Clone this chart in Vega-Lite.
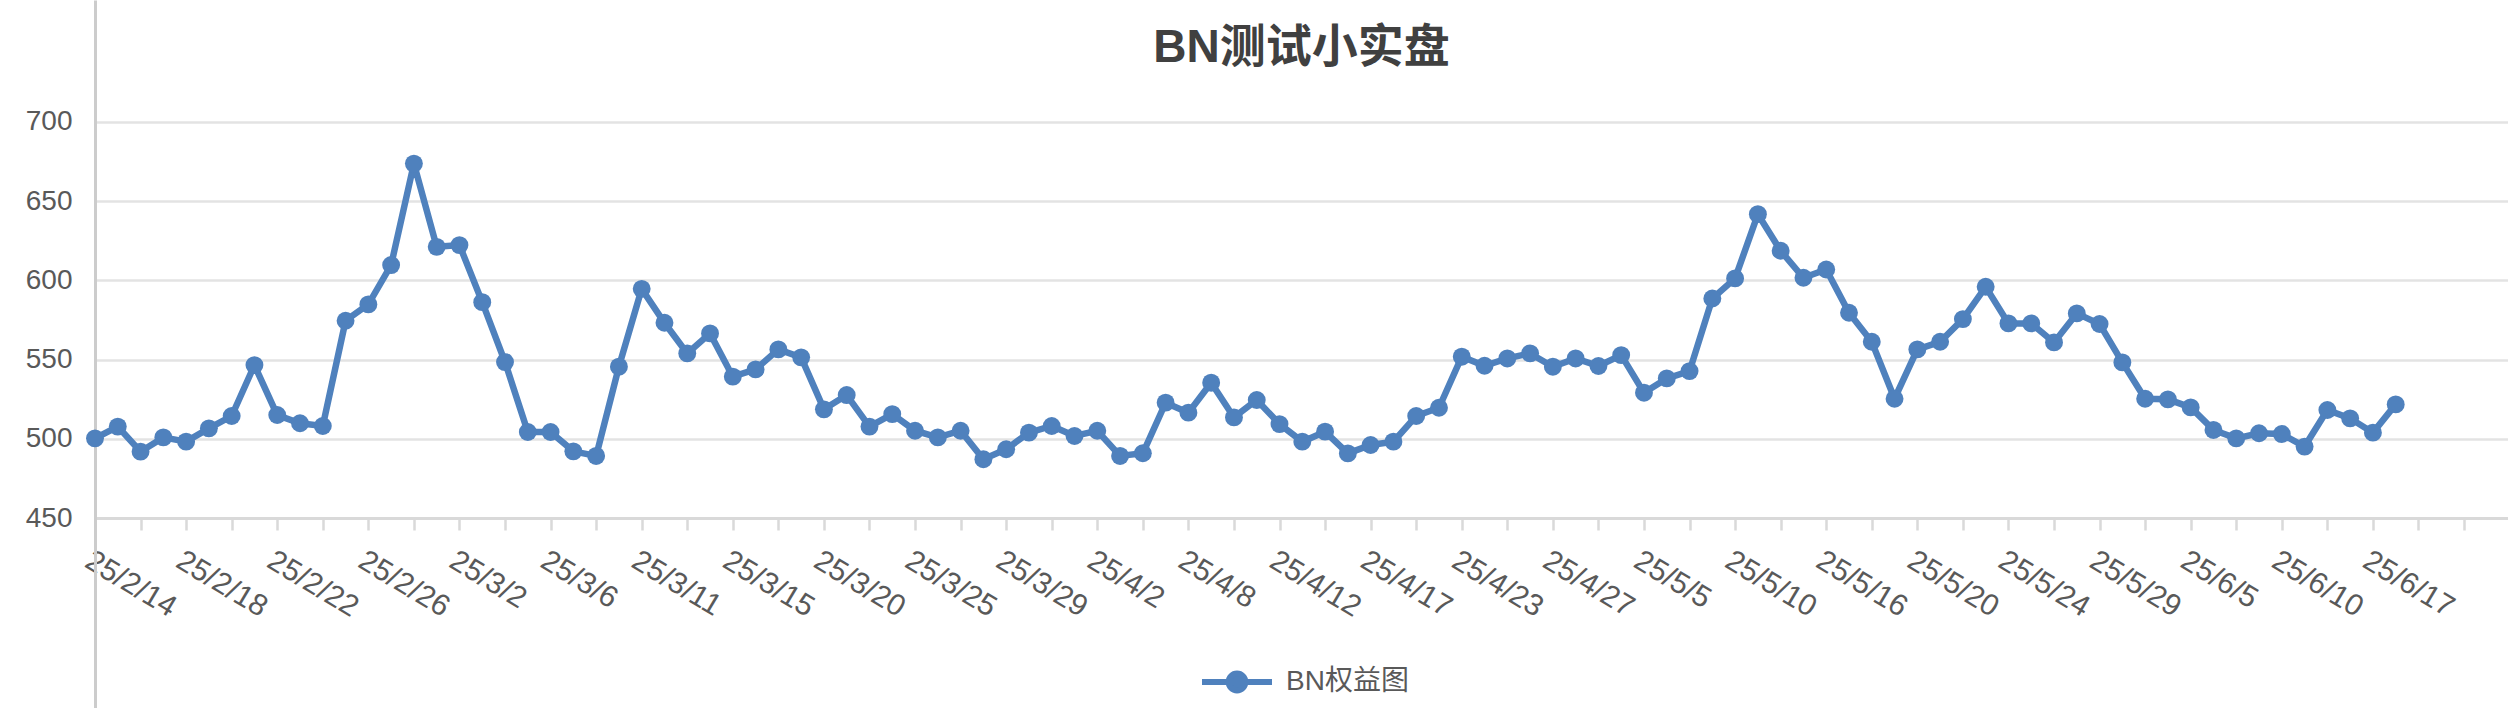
{
  "$schema": "https://vega.github.io/schema/vega-lite/v6.json",
  "width": 2413,
  "height": 708,
  "autosize": {"type": "none"},
  "padding": {"left": 95, "top": 0, "right": 0, "bottom": 0},
  "background": "white",
  "config": {"view": {"stroke": null}},
  "title": {
    "text": "BN测试小实盘",
    "fontSize": 46,
    "font": "Liberation Sans, Noto Sans CJK SC",
    "fontWeight": "bold",
    "color": "#404040",
    "anchor": "middle",
    "frame": "group",
    "offset": -72
  },
  "data": {
    "values": [
      {"date": "25/2/14", "value": 500.4},
      {"date": "25/2/15", "value": 507.8},
      {"date": "25/2/16", "value": 492.0},
      {"date": "25/2/17", "value": 501.0},
      {"date": "25/2/18", "value": 498.3},
      {"date": "25/2/19", "value": 506.7},
      {"date": "25/2/20", "value": 514.5},
      {"date": "25/2/21", "value": 546.6},
      {"date": "25/2/22", "value": 515.1},
      {"date": "25/2/23", "value": 509.9},
      {"date": "25/2/24", "value": 508.2},
      {"date": "25/2/25", "value": 574.6},
      {"date": "25/2/26", "value": 584.9},
      {"date": "25/2/27", "value": 609.7},
      {"date": "25/2/28", "value": 673.7},
      {"date": "25/3/1", "value": 621.2},
      {"date": "25/3/2", "value": 622.3},
      {"date": "25/3/3", "value": 586.3},
      {"date": "25/3/4", "value": 548.5},
      {"date": "25/3/5", "value": 504.4},
      {"date": "25/3/6", "value": 504.4},
      {"date": "25/3/7", "value": 492.2},
      {"date": "25/3/8", "value": 489.3},
      {"date": "25/3/10", "value": 545.6},
      {"date": "25/3/11", "value": 594.7},
      {"date": "25/3/12", "value": 573.3},
      {"date": "25/3/13", "value": 554.0},
      {"date": "25/3/14", "value": 566.6},
      {"date": "25/3/15", "value": 539.3},
      {"date": "25/3/16", "value": 543.9},
      {"date": "25/3/17", "value": 556.5},
      {"date": "25/3/18", "value": 551.5},
      {"date": "25/3/20", "value": 518.7},
      {"date": "25/3/21", "value": 527.7},
      {"date": "25/3/22", "value": 507.8},
      {"date": "25/3/23", "value": 515.7},
      {"date": "25/3/25", "value": 505.2},
      {"date": "25/3/26", "value": 501.0},
      {"date": "25/3/27", "value": 505.2},
      {"date": "25/3/28", "value": 487.2},
      {"date": "25/3/29", "value": 493.5},
      {"date": "25/3/30", "value": 504.0},
      {"date": "25/3/31", "value": 508.2},
      {"date": "25/4/1", "value": 501.9},
      {"date": "25/4/2", "value": 505.2},
      {"date": "25/4/3", "value": 489.3},
      {"date": "25/4/5", "value": 491.0},
      {"date": "25/4/7", "value": 522.9},
      {"date": "25/4/8", "value": 516.6},
      {"date": "25/4/9", "value": 535.5},
      {"date": "25/4/10", "value": 513.6},
      {"date": "25/4/11", "value": 524.6},
      {"date": "25/4/12", "value": 509.4},
      {"date": "25/4/13", "value": 498.3},
      {"date": "25/4/14", "value": 504.6},
      {"date": "25/4/16", "value": 490.9},
      {"date": "25/4/17", "value": 496.2},
      {"date": "25/4/18", "value": 498.3},
      {"date": "25/4/20", "value": 514.5},
      {"date": "25/4/21", "value": 519.7},
      {"date": "25/4/23", "value": 551.9},
      {"date": "25/4/24", "value": 546.2},
      {"date": "25/4/25", "value": 550.8},
      {"date": "25/4/26", "value": 554.0},
      {"date": "25/4/27", "value": 545.6},
      {"date": "25/4/29", "value": 550.8},
      {"date": "25/5/1", "value": 546.0},
      {"date": "25/5/3", "value": 552.9},
      {"date": "25/5/5", "value": 529.2},
      {"date": "25/5/6", "value": 538.2},
      {"date": "25/5/7", "value": 542.8},
      {"date": "25/5/9", "value": 588.6},
      {"date": "25/5/10", "value": 601.3},
      {"date": "25/5/12", "value": 641.8},
      {"date": "25/5/13", "value": 618.7},
      {"date": "25/5/15", "value": 601.7},
      {"date": "25/5/16", "value": 606.9},
      {"date": "25/5/17", "value": 579.6},
      {"date": "25/5/18", "value": 561.3},
      {"date": "25/5/19", "value": 525.4},
      {"date": "25/5/20", "value": 556.5},
      {"date": "25/5/21", "value": 561.3},
      {"date": "25/5/22", "value": 575.6},
      {"date": "25/5/23", "value": 596.0},
      {"date": "25/5/24", "value": 572.9},
      {"date": "25/5/26", "value": 572.9},
      {"date": "25/5/27", "value": 560.9},
      {"date": "25/5/28", "value": 579.2},
      {"date": "25/5/29", "value": 572.5},
      {"date": "25/6/1", "value": 548.3},
      {"date": "25/6/3", "value": 525.4},
      {"date": "25/6/4", "value": 525.0},
      {"date": "25/6/5", "value": 519.9},
      {"date": "25/6/6", "value": 505.7},
      {"date": "25/6/8", "value": 500.4},
      {"date": "25/6/9", "value": 503.6},
      {"date": "25/6/10", "value": 503.1},
      {"date": "25/6/12", "value": 495.2},
      {"date": "25/6/14", "value": 518.3},
      {"date": "25/6/16", "value": 513.0},
      {"date": "25/6/17", "value": 504.0},
      {"date": "25/6/18", "value": 521.8}
    ]
  },
  "encoding": {
    "x": {
      "field": "date",
      "type": "ordinal",
      "sort": null,
      "scale": {
        "type": "point",
        "padding": 0.965,
        "align": 0,
        "domain": ["25/2/14","25/2/15","25/2/16","25/2/17","25/2/18","25/2/19","25/2/20","25/2/21","25/2/22","25/2/23","25/2/24","25/2/25","25/2/26","25/2/27","25/2/28","25/3/1","25/3/2","25/3/3","25/3/4","25/3/5","25/3/6","25/3/7","25/3/8","25/3/10","25/3/11","25/3/12","25/3/13","25/3/14","25/3/15","25/3/16","25/3/17","25/3/18","25/3/20","25/3/21","25/3/22","25/3/23","25/3/25","25/3/26","25/3/27","25/3/28","25/3/29","25/3/30","25/3/31","25/4/1","25/4/2","25/4/3","25/4/5","25/4/7","25/4/8","25/4/9","25/4/10","25/4/11","25/4/12","25/4/13","25/4/14","25/4/16","25/4/17","25/4/18","25/4/20","25/4/21","25/4/23","25/4/24","25/4/25","25/4/26","25/4/27","25/4/29","25/5/1","25/5/3","25/5/5","25/5/6","25/5/7","25/5/9","25/5/10","25/5/12","25/5/13","25/5/15","25/5/16","25/5/17","25/5/18","25/5/19","25/5/20","25/5/21","25/5/22","25/5/23","25/5/24","25/5/26","25/5/27","25/5/28","25/5/29","25/6/1","25/6/3","25/6/4","25/6/5","25/6/6","25/6/8","25/6/9","25/6/10","25/6/12","25/6/14","25/6/16","25/6/17","25/6/18","25/6/19","25/6/20","25/6/21"]
      },
      "axis": {
        "title": null,
        "offset": -190,
        "grid": false,
        "values": ["25/2/14","25/2/16","25/2/18","25/2/20","25/2/22","25/2/24","25/2/26","25/2/28","25/3/2","25/3/4","25/3/6","25/3/8","25/3/11","25/3/13","25/3/15","25/3/17","25/3/20","25/3/22","25/3/25","25/3/27","25/3/29","25/3/31","25/4/2","25/4/5","25/4/8","25/4/10","25/4/12","25/4/14","25/4/17","25/4/20","25/4/23","25/4/25","25/4/27","25/5/1","25/5/5","25/5/7","25/5/10","25/5/13","25/5/16","25/5/18","25/5/20","25/5/22","25/5/24","25/5/27","25/5/29","25/6/3","25/6/5","25/6/8","25/6/10","25/6/14","25/6/17","25/6/19","25/6/21"],
        "labelExpr": "indexof(['25/2/14','25/2/18','25/2/22','25/2/26','25/3/2','25/3/6','25/3/11','25/3/15','25/3/20','25/3/25','25/3/29','25/4/2','25/4/8','25/4/12','25/4/17','25/4/23','25/4/27','25/5/5','25/5/10','25/5/16','25/5/20','25/5/24','25/5/29','25/6/5','25/6/10','25/6/17'], datum.value) >= 0 ? datum.value : ''",
        "labelAngle": 31,
        "labelAlign": "left",
        "labelBaseline": "top",
        "labelFont": "Liberation Sans",
        "labelFontSize": 30,
        "labelColor": "#595959",
        "labelPadding": 15,
        "labelOverlap": false,
        "labelBound": false,
        "tickSize": 12,
        "tickColor": "#d9d9d9",
        "tickWidth": 2.5,
        "domainColor": "#d9d9d9",
        "domainWidth": 3
      }
    },
    "y": {
      "field": "value",
      "type": "quantitative",
      "scale": {"domain": [330.3, 776.9], "nice": false, "zero": false},
      "axis": {
        "title": null,
        "values": [450, 500, 550, 600, 650, 700],
        "grid": true,
        "gridColor": "#e3e3e3",
        "gridWidth": 2.5,
        "ticks": false,
        "domainColor": "#cccccc",
        "domainWidth": 3,
        "labelFont": "Liberation Sans",
        "labelFontSize": 28,
        "labelColor": "#595959",
        "labelPadding": 23
      }
    },
    "color": {
      "datum": "BN权益图",
      "scale": {"range": ["#4F81BD"]},
      "legend": {
        "title": null,
        "orient": "none",
        "legendX": 1104,
        "legendY": 644,
        "padding": 0,
        "symbolType": "M -1 0 L 1 0 M 0.24 0 A 0.24 0.24 0 1 1 -0.24 0 A 0.24 0.24 0 1 1 0.24 0 Z",
        "symbolSize": 4900,
        "symbolStrokeWidth": 6,
        "symbolFillColor": "#4F81BD",
        "symbolStrokeColor": "#4F81BD",
        "symbolOpacity": 1,
        "labelFont": "Liberation Sans, Noto Sans CJK SC",
        "labelFontSize": 28,
        "labelColor": "#595959",
        "labelOffset": 11
      }
    }
  },
  "layer": [
    {"mark": {"type": "line", "strokeWidth": 6.5}},
    {"mark": {"type": "point", "filled": true, "size": 320, "opacity": 1}}
  ]
}
